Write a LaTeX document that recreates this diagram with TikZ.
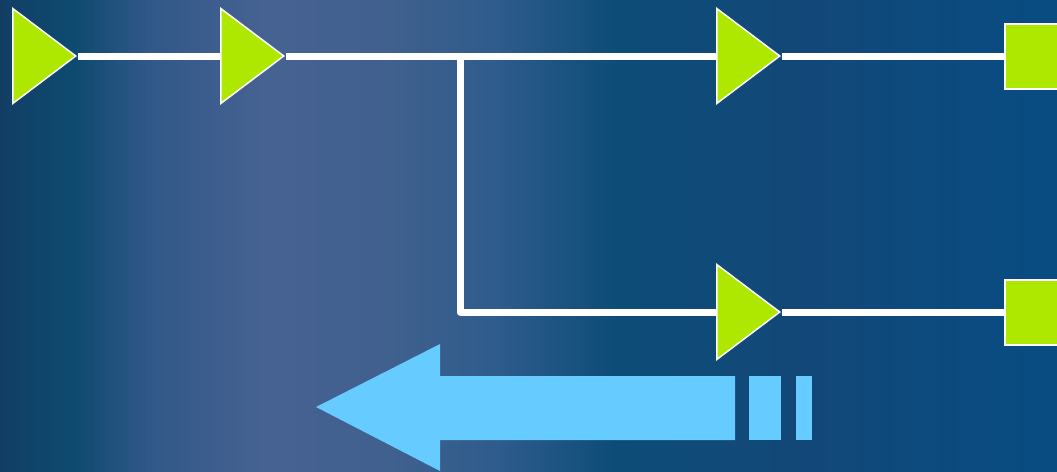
\documentclass[tikz,border=0pt]{standalone}
\usetikzlibrary{shapes.geometric,backgrounds}
\definecolor{bgA}{RGB}{18,62,100}
\definecolor{bgB}{RGB}{14,74,112}
\definecolor{bgC}{RGB}{48,88,136}
\definecolor{bgD}{RGB}{70,98,146}
\definecolor{bgE}{RGB}{64,96,142}
\definecolor{bgF}{RGB}{46,92,140}
\definecolor{bgG}{RGB}{14,76,120}
\definecolor{bgH}{RGB}{18,72,120}
\definecolor{bgI}{RGB}{8,76,130}
\definecolor{lime}{RGB}{174,232,0}
\definecolor{sky}{RGB}{102,204,255}
% visible range of a TikZ axis shading is 25bp..75bp
\pgfdeclarehorizontalshading{bgshade}{100bp}{
 color(0bp)=(bgA); color(25bp)=(bgA); color(28.5bp)=(bgB); color(32bp)=(bgC); color(37.5bp)=(bgD);
 color(43.5bp)=(bgE); color(48.5bp)=(bgF); color(54bp)=(bgG); color(62.5bp)=(bgH); color(75bp)=(bgI); color(100bp)=(bgI)}
\tikzset{
 tri/.style={isosceles triangle, isosceles triangle stretches, shape border rotate=0,
   minimum width=95pt, minimum height=63pt, inner sep=0pt, fill=lime, draw=white, line width=1.5pt, anchor=west},
 sq/.style={rectangle, minimum width=66pt, minimum height=65pt, inner sep=0pt, fill=lime, draw=white, line width=2pt, anchor=west},
 wire/.style={draw=white, line width=7pt},
 arrowfill/.style={fill=sky},
}
\begin{document}
\begin{tikzpicture}[x=1pt,y=-1pt]
\useasboundingbox (0,0) rectangle (1057,471);
% nodes
\node[tri] (t1) at (12,56) {};
\node[tri] (t2) at (220,56) {};
\node[tri] (t3) at (716,56) {};
\node[tri] (t4) at (716,312) {};
\node[sq] (s1) at (1004,56) {};
\node[sq] (s2) at (1004,312) {};
\coordinate (j) at (460,56);
\begin{pgfonlayer}{background}
\shade[shading=bgshade] (0,0) rectangle (1057,471);
\path[arrowfill] (316,407) -- (440,344) -- (440,376) -- (735,376) -- (735,440) -- (440,440) -- (440,471) -- cycle;
\path[arrowfill] (749,376) rectangle (781,440);
\path[arrowfill] (796,376) rectangle (812,440);
\path[wire] (t1.apex) -- (t2.west);
\path[wire] (t2.apex) -- (t3.west);
\path[wire, line join=round] (j) -- (j |- t4.west) -- (t4.west);
\path[wire] (t3.apex) -- (s1.west);
\path[wire] (t4.apex) -- (s2.west);
\end{pgfonlayer}
\end{tikzpicture}
\end{document}
